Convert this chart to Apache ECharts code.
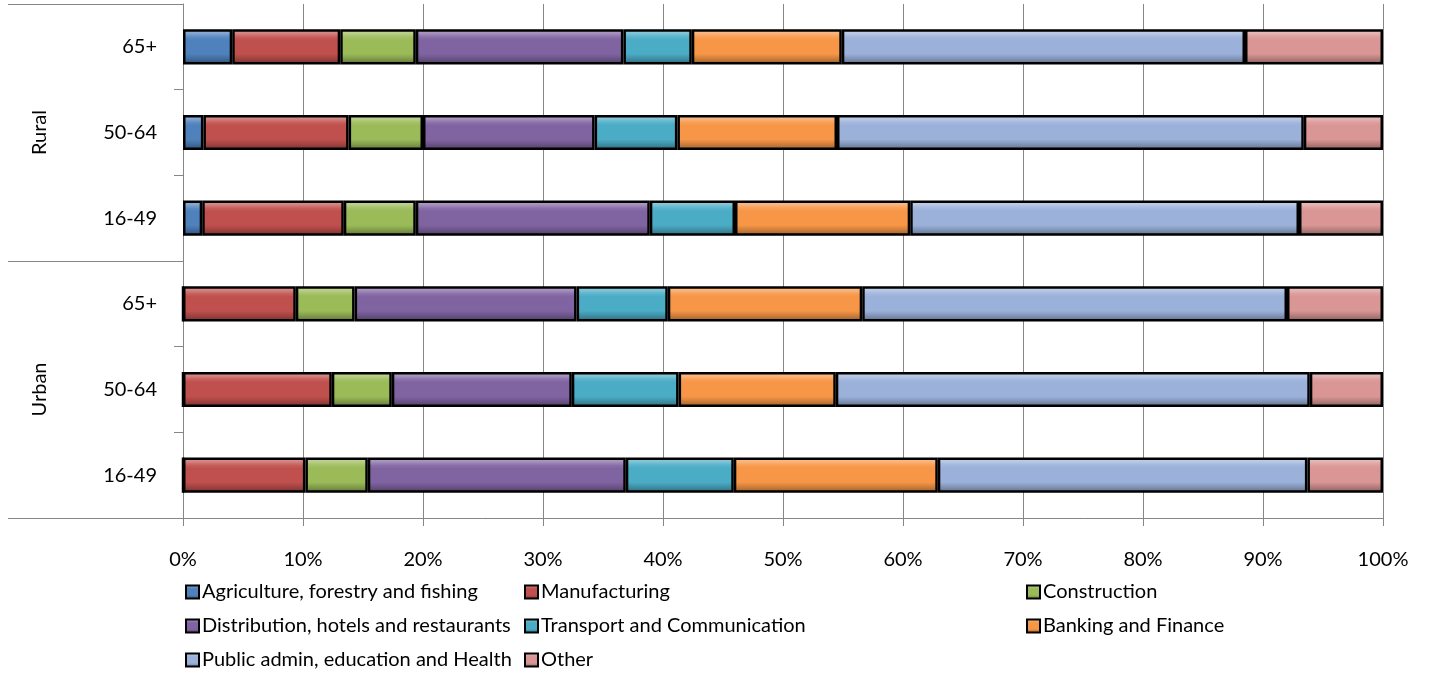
<!DOCTYPE html>
<html>
<head>
<meta charset="utf-8">
<script src="https://cdn.jsdelivr.net/npm/echarts@6/dist/echarts.min.js"></script>
<style>
  html, body { margin: 0; padding: 0; background: #fff; }
  #chart { width: 1432px; height: 675px; }
</style>
</head>
<body>
<div id="chart"></div>
<script>
// Employment by industry, shares of workers (%) by area and age band.
// Rows run bottom to top: Urban 16-49 ... Rural 65+.
const areas = ['Urban', 'Rural'];
const ageBands = ['16-49', '50-64', '65+'];
const rowKeys = ['Urban|16-49', 'Urban|50-64', 'Urban|65+', 'Rural|16-49', 'Rural|50-64', 'Rural|65+'];

const industries = [
  'Agriculture, forestry and fishing',
  'Manufacturing',
  'Construction',
  'Distribution, hotels and restaurants',
  'Transport and Communication',
  'Banking and Finance',
  'Public admin, education and Health',
  'Other'
];

const agriculture   = [0,     0,     0,     1.6,   1.7,   4.1];
const manufacturing = [10.2,  12.4,  9.4,   11.8,  12.1,  9.0];
const construction  = [5.2,   5.0,   4.9,   6.0,   6.2,   6.3];
const distribution  = [21.5,  15.0,  18.5,  19.5,  14.3,  17.3];
const transport     = [9.0,   8.9,   7.6,   7.1,   6.9,   5.7];
const banking       = [17.0,  13.1,  16.2,  14.6,  13.3,  12.5];
const publicAdmin   = [30.8,  39.5,  35.4,  32.4,  38.9,  33.6];
const other         = [6.3,   6.1,   8.0,   7.0,   6.6,   11.5];

const xTicks = ['0%', '10%', '20%', '30%', '40%', '50%', '60%', '70%', '80%', '90%', '100%'];

const seriesValues = [agriculture, manufacturing, construction, distribution, transport, banking, publicAdmin, other];
const baseColors = ['#4F81BD', '#C0504D', '#9BBB59', '#8064A2', '#4BACC6', '#F79646', '#9BB1DA', '#D99694'];

function mix(hex, target, t) {
  const n = parseInt(hex.slice(1), 16);
  const r = (n >> 16) & 255, g = (n >> 8) & 255, b = n & 255;
  const f = c => Math.round(c + (target - c) * t);
  return 'rgb(' + f(r) + ',' + f(g) + ',' + f(b) + ')';
}

// Bevelled look: light top edge, flat body, shaded bottom edge.
function bevel(hex) {
  return new echarts.graphic.LinearGradient(0, 0, 0, 1, [
    { offset: 0,    color: mix(hex, 255, 0.45) },
    { offset: 0.12, color: mix(hex, 255, 0.28) },
    { offset: 0.22, color: mix(hex, 255, 0.08) },
    { offset: 0.3,  color: hex },
    { offset: 0.7,  color: hex },
    { offset: 0.8,  color: mix(hex, 0, 0.12) },
    { offset: 0.9,  color: mix(hex, 0, 0.25) },
    { offset: 1,    color: mix(hex, 0, 0.45) }
  ]);
}

const FONT = 'Lato';
const GRID_LEFT = 183, GRID_RIGHT = 49, GRID_TOP = 4, GRID_BOTTOM = 157;

const series = industries.map((name, i) => ({
  name: name,
  type: 'bar',
  stack: 'share',
  barWidth: '41%',
  data: seriesValues[i],
  itemStyle: {
    color: bevel(baseColors[i]),
    borderColor: '#000',
    borderWidth: 2.5
  },
  emphasis: { disabled: true }
}));

function legendBlock(left, names) {
  return {
    orient: 'vertical',
    left: left,
    top: 582,
    height: 100,
    padding: 0,
    itemWidth: 13,
    itemHeight: 13,
    itemGap: 14,
    icon: 'rect',
    data: names,
    textStyle: { fontFamily: FONT, fontSize: 20, lineHeight: 20, color: '#000', padding: [0, 0, 0, -2] }
  };
}

const chart = echarts.init(document.getElementById('chart'), null, { renderer: 'canvas' });
chart.setOption({
  animation: false,
  backgroundColor: '#fff',
  textStyle: { fontFamily: FONT },
  grid: { left: GRID_LEFT, right: GRID_RIGHT, top: GRID_TOP, bottom: GRID_BOTTOM, containLabel: false },
  legend: [
    legendBlock(185, [industries[0], industries[3], industries[6]]),
    legendBlock(524, [industries[1], industries[4], industries[7]]),
    legendBlock(1026, [industries[2], industries[5]])
  ],
  xAxis: {
    type: 'value',
    min: 0,
    max: 100,
    interval: 10,
    axisLine: { show: true, lineStyle: { color: '#868686', width: 1 } },
    axisTick: { show: true, length: 8, lineStyle: { color: '#868686' } },
    splitLine: { show: true, lineStyle: { color: '#868686', width: 1 } },
    axisLabel: {
      margin: 32,
      fontFamily: FONT,
      fontSize: 20,
      color: '#000',
      formatter: v => xTicks[Math.round(v / 10)]
    }
  },
  yAxis: [
    {
      type: 'category',
      data: rowKeys,
      position: 'left',
      axisLine: { show: true, onZero: false, lineStyle: { color: '#868686', width: 1 } },
      axisTick: { show: true, length: 9, lineStyle: { color: '#868686' } },
      axisLabel: {
        margin: 26,
        fontFamily: FONT,
        fontSize: 20,
        color: '#000',
        formatter: v => v.split('|')[1]
      }
    },
    {
      type: 'category',
      data: areas,
      position: 'left',
      offset: 0,
      axisLine: { show: false },
      axisTick: { show: true, length: 175, lineStyle: { color: '#868686' } },
      axisLabel: {
        margin: 133,
        rotate: 90,
        fontFamily: FONT,
        fontSize: 20,
        color: '#000'
      }
    }
  ],
  series: series
});
</script>
</body>
</html>
